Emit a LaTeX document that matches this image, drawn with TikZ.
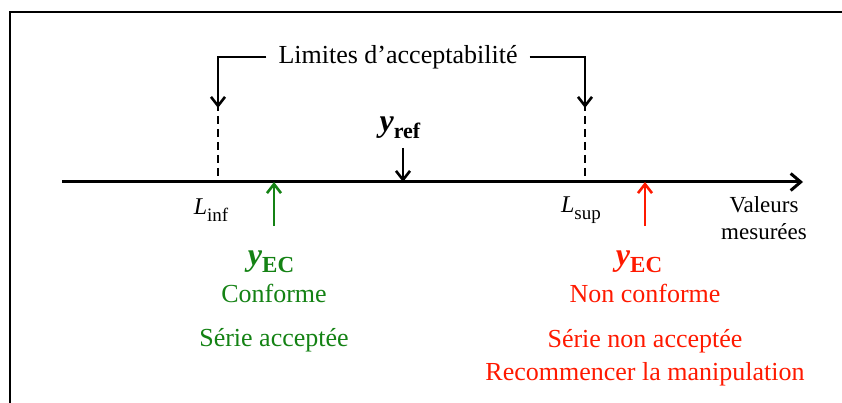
\documentclass[tikz,border=0pt]{standalone}
\usepackage{fontspec}
\setmainfont{Liberation Serif}
\usetikzlibrary{arrows.meta}
\definecolor{vert}{RGB}{20,130,20}
\definecolor{rouge}{RGB}{255,25,0}
\newcommand{\taille}[1]{\fontsize{#1}{#1}\selectfont}
\newcommand{\indice}[2]{\raisebox{-7pt}{\taille{#1}#2}}
\begin{document}
\begin{tikzpicture}[
  x=1pt, y=-1pt,
  fleche/.style={line width=2.6pt, -{Straight Barb[length=9pt,width=14pt]}},
  txt/.style={inner sep=0pt, font=\taille{26}},
  petit/.style={inner sep=0pt, font=\taille{23}},
  grand/.style={inner sep=0pt, font=\taille{32}},
  limite/.style={line width=2.6pt, dash pattern=on 8pt off 5pt}
]
\useasboundingbox (0,0) rectangle (842,403);
% cadre
\draw[line width=2pt] (10,403) -- (10,12) -- (842,12);
% axe
\coordinate (axe0) at (62,182);
\coordinate (axe1) at (803,182);
\draw[line width=3pt, -{Straight Barb[length=10pt,width=17pt]}] (axe0) -- (axe1);
\coordinate (linf) at (218,182);
\coordinate (lsup) at (585,182);
\coordinate (linfh) at (218,108);
\coordinate (lsuph) at (585,108);
% limites
\node[txt] (lim) at (398,57) {Limites d'acceptabilité};
\draw[fleche] ([xshift=-12pt]lim.west) -| (linfh);
\draw[fleche] ([xshift=12pt]lim.east) -| (lsuph);
\draw[limite] ([yshift=5pt]linfh) -- (linf);
\draw[limite] ([yshift=5pt]lsuph) -- (lsup);
\node[petit, font=\taille{24}] (linfl) at (211,210) {\textit{L}\indice{19}{inf}};
\node[petit, font=\taille{24}] (lsupl) at (581,210) {\textit{L}\indice{19}{sup}};
\node[petit, align=center, font=\fontsize{23}{27}\selectfont] (val) at (764,218) {Valeurs\\mesurées};
% valeur de reference
\coordinate (yrefp) at (403,182);
\node[grand] (yref) at (400,128) {\textbf{\textit{y}}\indice{22}{\textbf{ref}}};
\draw[fleche] (yrefp |- 0,148) -- (yrefp);
% cas conforme
\coordinate (ecv) at (274,182);
\coordinate (ecvb) at (274,226);
\draw[fleche, vert] (ecvb) -- (ecv);
\node[grand, text=vert] (yecv) at (271,262) {\textbf{\textit{y}}\indice{23}{\textbf{EC}}};
\node[txt, text=vert] (conf) at (274,293) {Conforme};
\node[txt, text=vert] (acc) at (274,340) {Série acceptée};
% cas non conforme
\coordinate (ecr) at (645,182);
\coordinate (ecrb) at (645,226);
\draw[fleche, rouge] (ecrb) -- (ecr);
\node[grand, text=rouge] (yecr) at (639,262) {\textbf{\textit{y}}\indice{23}{\textbf{EC}}};
\node[txt, text=rouge] (nconf) at (645,293) {Non conforme};
\node[txt, text=rouge, align=center, font=\fontsize{26}{33}\selectfont] (nacc) at (645,358) {Série non acceptée\\Recommencer la manipulation};
\end{tikzpicture}
\end{document}
